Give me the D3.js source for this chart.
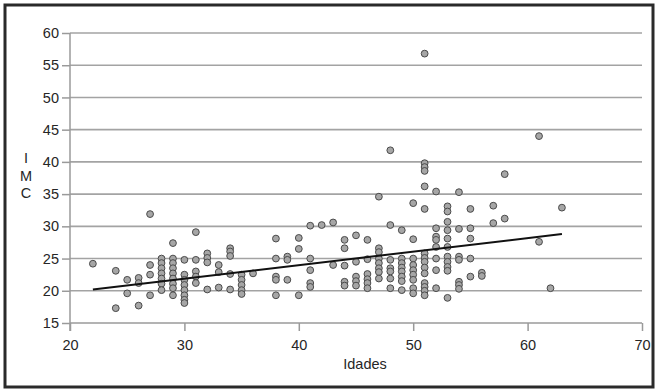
<!DOCTYPE html>
<html>
<head>
<meta charset="utf-8">
<script src="https://cdn.jsdelivr.net/npm/d3@7"></script>
<style>
  html, body { margin: 0; padding: 0; background: #fff; }
  svg { display: block; font-family: "Liberation Sans", Arial, sans-serif; }
</style>
</head>
<body>
<svg id="chart" width="658" height="391"></svg>
<script>
// ---- data ----
const ages = [
  22,
  24, 24,
  25, 25,
  26, 26, 26,
  27, 27, 27, 27,
  28, 28, 28, 28, 28, 28, 28,
  29, 29, 29, 29, 29, 29, 29, 29, 29,
  30, 30, 30, 30, 30, 30, 30, 30,
  31, 31, 31, 31, 31,
  32, 32, 32, 32,
  33, 33, 33,
  34, 34, 34, 34, 34,
  35, 35, 35, 35, 35,
  36,
  38, 38, 38, 38, 38,
  39, 39, 39,
  40, 40, 40,
  41, 41, 41, 41, 41,
  42,
  43, 43,
  44, 44, 44, 44, 44,
  45, 45, 45, 45, 45,
  46, 46, 46, 46, 46, 46,
  47, 47, 47, 47, 47, 47, 47, 47,
  48, 48, 48, 48, 48, 48, 48,
  49, 49, 49, 49, 49, 49, 49, 49,
  50, 50, 50, 50, 50, 50, 50, 50, 50,
  51, 51, 51, 51, 51, 51, 51, 51, 51, 51, 51, 51, 51, 51, 51,
  52, 52, 52, 52, 52, 52, 52, 52,
  53, 53, 53, 53, 53, 53, 53, 53, 53, 53, 53,
  54, 54, 54, 54, 54, 54, 54,
  55, 55, 55, 55, 55,
  56, 56,
  57, 57,
  58, 58,
  61, 61,
  62,
  63
];
const imc = [
  24.2,
  23.1, 17.3,
  21.7, 19.6,
  22.0, 21.2, 17.7,
  31.9, 24.0, 22.5, 19.3,
  25.0, 24.3, 23.5, 22.7, 21.9, 21.1, 20.1,
  27.4, 25.0, 24.3, 23.5, 22.7, 21.9, 21.1, 20.4, 19.3,
  24.8, 22.5, 21.7, 20.9, 20.1, 19.3, 18.6, 18.1,
  29.1, 24.8, 23.0, 22.2, 21.2,
  25.8, 25.1, 24.4, 20.2,
  24.0, 22.9, 20.5,
  26.6, 26.1, 25.4, 22.6, 20.2,
  22.5, 21.7, 20.9, 20.1, 19.5,
  22.7,
  28.1, 25.0, 22.2, 21.7, 19.3,
  25.3, 24.8, 21.7,
  28.2, 26.5, 19.3,
  30.1, 25.0, 23.2, 21.2, 20.6,
  30.2,
  30.6, 24.0,
  27.9, 26.6, 23.9, 21.4, 20.8,
  28.6, 24.5, 22.2, 21.5, 20.8,
  27.9, 24.9, 22.6, 21.8, 21.2, 20.4,
  34.6, 26.6, 26.0, 25.0, 24.3, 23.5, 22.9, 21.9,
  41.8, 30.2, 24.8, 23.5, 23.0, 21.9, 20.4,
  29.4, 25.0, 24.3, 23.6, 23.0, 22.2, 21.5, 20.1,
  33.6, 28.0, 25.0, 24.0, 23.2, 22.5, 21.7, 20.4, 19.6,
  56.8, 39.8, 39.2, 38.6, 36.2, 32.7, 25.8, 25.1, 24.5, 23.6, 22.7, 21.2, 20.6, 20.0, 19.3,
  35.4, 29.7, 28.4, 27.9, 26.8, 25.0, 23.2, 20.4,
  33.1, 32.3, 30.7, 29.4, 28.1, 26.8, 25.3, 24.5, 23.7, 23.1, 18.9,
  35.3, 29.6, 25.3, 24.8, 21.4, 20.9, 20.3,
  32.7, 29.7, 28.1, 25.0, 22.2,
  22.8, 22.3,
  33.2, 30.5,
  38.1, 31.2,
  44.0, 27.6,
  20.4,
  32.9
];
// fitted line end points
const fitAges = [22, 63];
const fitImc = [20.2, 28.8];
const xTicks = [20, 30, 40, 50, 60, 70];
const yTicks = [15, 20, 25, 30, 35, 40, 45, 50, 55, 60];
const xTitle = "Idades";
const yTitle = ["I", "M", "C"];

// ---- drawing ----
const svg = d3.select("#chart");
const x = d3.scaleLinear().domain([20, 70]).range([70, 642]);
const y = d3.scaleLinear().domain([15, 60]).range([323, 33]);
const FONT = 14.5;
const TXT = "#262626";

// outer frame
svg.append("rect")
  .attr("x", 5).attr("y", 5).attr("width", 648).attr("height", 382)
  .attr("fill", "#fff").attr("stroke", "#2a2a2a").attr("stroke-width", 3);

// grid lines
svg.append("g").selectAll("line").data(yTicks.filter(d => d > 15)).join("line")
  .attr("x1", x(20)).attr("x2", x(70))
  .attr("y1", d => y(d)).attr("y2", d => y(d))
  .attr("stroke", "#a3a3a3").attr("stroke-width", 1.6);

// y axis
const yAxis = svg.append("g").attr("transform", `translate(${x(20)},0)`)
  .call(d3.axisLeft(y).tickValues(yTicks).tickSize(8).tickPadding(3));
yAxis.select(".domain").attr("stroke", "#9a9a9a").attr("stroke-width", 1.5)
  .attr("d", `M0,${y(60)}V${y(15) + 8}`);
yAxis.selectAll(".tick line").attr("stroke", "#9a9a9a").attr("stroke-width", 1.5);
yAxis.selectAll("text").attr("fill", TXT).attr("font-size", FONT)
  .attr("font-family", "Liberation Sans, Arial, sans-serif");

// x axis
const xAxis = svg.append("g").attr("transform", `translate(0,${y(15)})`)
  .call(d3.axisBottom(x).tickValues(xTicks).tickSize(8).tickPadding(9));
xAxis.select(".domain").attr("stroke", "#9a9a9a").attr("stroke-width", 1.5)
  .attr("d", `M${x(20)},0H${x(70)}`);
xAxis.selectAll(".tick line").attr("stroke", "#9a9a9a").attr("stroke-width", 1.5);
xAxis.selectAll("text").attr("fill", TXT).attr("font-size", FONT)
  .attr("font-family", "Liberation Sans, Arial, sans-serif");

// axis titles
svg.append("text").attr("x", 365).attr("y", 369)
  .attr("text-anchor", "middle").attr("font-size", FONT).attr("fill", TXT)
  .text(xTitle);
svg.append("g").selectAll("text").data(yTitle).join("text")
  .attr("x", 26).attr("y", (d, i) => 163 + i * 17.5)
  .attr("text-anchor", "middle").attr("font-size", FONT).attr("fill", TXT)
  .text(d => d);

// points
const pts = ages.map((a, i) => ({ a, v: imc[i] }));
svg.append("g").selectAll("circle").data(pts).join("circle")
  .attr("cx", d => x(d.a)).attr("cy", d => y(d.v)).attr("r", 3.4)
  .attr("fill", "#a6a6a6").attr("stroke", "#4a4a4a").attr("stroke-width", 1);

// fit line
const line = d3.line().x(d => x(d[0])).y(d => y(d[1]));
svg.append("path").datum(fitAges.map((a, i) => [a, fitImc[i]]))
  .attr("d", line).attr("fill", "none").attr("stroke", "#111").attr("stroke-width", 2);
</script>
</body>
</html>
